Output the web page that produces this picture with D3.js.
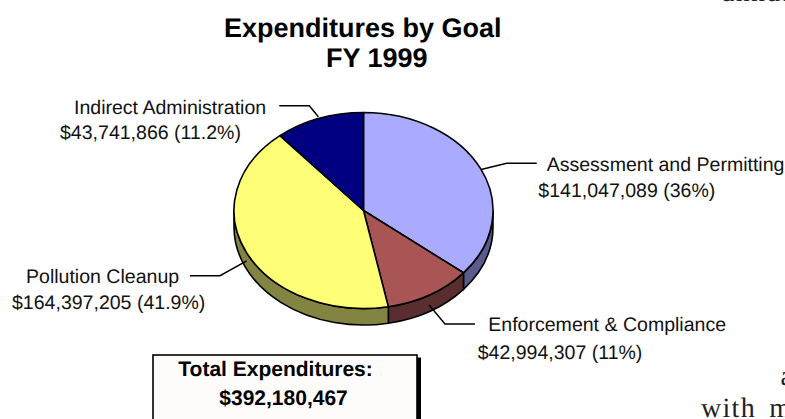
<!DOCTYPE html>
<html>
<head>
<meta charset="utf-8">
<script src="https://cdn.jsdelivr.net/npm/d3@7"></script>
<style>
  html, body { margin: 0; padding: 0; background: #fff; overflow: hidden; }
  text { font-family: "Liberation Sans", Arial, sans-serif; fill: #000; text-rendering: geometricPrecision; }
  .title { font-size: 27px; font-weight: bold; }
  .label { font-size: 19.55px; fill: #111; }
  .total { font-size: 21px; font-weight: bold; }
  .scrap { font-family: "Liberation Serif", serif; font-size: 28px; fill: #222; letter-spacing: 1.3px; }
  .leader { fill: none; stroke: #000; stroke-width: 1.5; }
</style>
</head>
<body>
<svg id="chart" width="785" height="419"></svg>
<script>
const categories = ["Assessment and Permitting", "Enforcement & Compliance", "Pollution Cleanup", "Indirect Administration"];
const amounts = [141047089, 42994307, 164397205, 43741866];
const shares = ["36%", "11%", "41.9%", "11.2%"];
const topColors = ["#aaaaff", "#aa5555", "#ffff77", "#000080"];
const sideColors = ["#5a5a8c", "#5a2e2e", "#848442", "#000050"];
const titleLines = ["Expenditures by Goal", "FY 1999"];
const totalLines = ["Total Expenditures:", "$392,180,467"];

const svg = d3.select("#chart");

const cx = 363.5, cy = 210.5, rx = 129.5, ry = 98, depth = 16.5;

const pie = d3.pie().sort(null).value(d => d)(amounts);
const money = d3.format("$,");

// ellipse point for a pie angle (0 = top, clockwise)
const px = a => cx + rx * Math.sin(a);
const py = a => cy - ry * Math.cos(a);

function slicePath(s) {
  const large = s.endAngle - s.startAngle > Math.PI ? 1 : 0;
  return `M${cx},${cy}L${px(s.startAngle)},${py(s.startAngle)}` +
    `A${rx},${ry} 0 ${large} 1 ${px(s.endAngle)},${py(s.endAngle)}Z`;
}

// the wall is only visible between 90 and 270 degrees
function wallPath(s) {
  const a0 = Math.max(s.startAngle, Math.PI / 2);
  const a1 = Math.min(s.endAngle, Math.PI * 1.5);
  if (a1 <= a0) return null;
  return `M${px(a0)},${py(a0)}A${rx},${ry} 0 0 1 ${px(a1)},${py(a1)}` +
    `L${px(a1)},${py(a1) + depth}A${rx},${ry} 0 0 0 ${px(a0)},${py(a0) + depth}Z`;
}

svg.append("g").selectAll("path")
  .data(pie.filter(wallPath))
  .join("path")
    .attr("d", wallPath)
    .attr("fill", d => sideColors[d.index])
    .attr("stroke", "#000")
    .attr("stroke-width", 1.6);

svg.append("g").selectAll("path")
  .data(pie)
  .join("path")
    .attr("d", slicePath)
    .attr("fill", d => topColors[d.index])
    .attr("stroke", "#000")
    .attr("stroke-width", 1.6)
    .attr("stroke-linejoin", "round");

// leader lines: label end, elbow, then a spot on the pie edge (off = down the wall)
const leaderStarts = [[536.7, 163.3, 506.7, 163.3], [475, 324, 445, 324], [190, 275.7, 220, 275.7], [279.3, 105.7, 309.3, 105.7]];
const leaderEnds = [{ a: 1.14, off: 0 }, { a: 2.61, off: 10 }, { a: 4.266, off: 8 }, { a: 5.927, off: -2 }];

svg.append("g").selectAll("path")
  .data(leaderStarts)
  .join("path")
    .attr("class", "leader")
    .attr("d", (d, i) => {
      const t = leaderEnds[i];
      return `M${d[0]},${d[1]}L${d[2]},${d[3]}L${px(t.a)},${py(t.a) + t.off}`;
    });

// [name x, name baseline, amount x, amount baseline]
const labelPos = [[546.7, 170.7, 538.3, 197.3], [488.3, 331, 477.7, 359], [26, 283.3, 12, 309.3], [74, 114, 60, 138.8]];
const labels = svg.append("g");
categories.forEach((c, i) => {
  const p = labelPos[i];
  labels.append("text").attr("class", "label").attr("x", p[0]).attr("y", p[1]).text(c);
  labels.append("text").attr("class", "label").attr("x", p[2]).attr("y", p[3])
    .text(`${money(amounts[i])} (${shares[i]})`);
});

const titleX = [224, 326], titleY = [36.5, 67];
titleLines.forEach((t, i) => {
  svg.append("text").attr("class", "title").attr("x", titleX[i]).attr("y", titleY[i]).text(t);
});

// total box with its hard shadow, runs off the bottom
svg.append("rect").attr("x", 157).attr("y", 357.5).attr("width", 264).attr("height", 80).attr("fill", "#000");
svg.append("rect").attr("x", 153).attr("y", 355).attr("width", 264).attr("height", 80)
  .attr("fill", "#fdfcfa").attr("stroke", "#000").attr("stroke-width", 1.6);
const totalX = [178.3, 219.3], totalY = [376.2, 405];
totalLines.forEach((t, i) => {
  svg.append("text").attr("class", "total").attr("x", totalX[i]).attr("y", totalY[i]).text(t);
});

// bits of the scanned page around the chart
svg.append("text").attr("class", "scrap").attr("x", 780.5).attr("y", 385).text("a");
svg.append("text").attr("class", "scrap").attr("x", 701).attr("y", 417).attr("word-spacing", 5).text("with m");
svg.append("text").attr("class", "scrap").attr("x", 722).attr("y", 1).text("annual");
</script>
</body>
</html>
